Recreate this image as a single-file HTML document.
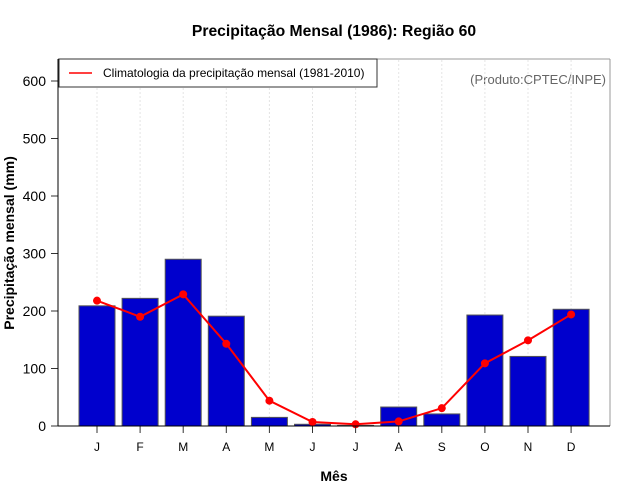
<!DOCTYPE html>
<html><head><meta charset="utf-8"><style>
body{margin:0;background:#fff;}
svg{display:block;font-family:"Liberation Sans",sans-serif;}
</style></head><body>
<svg id="c" width="640" height="500">
<text x="334" y="36" text-anchor="middle" font-size="15.7" font-weight="bold">Precipitação Mensal (1986): Região 60</text>
<text x="334" y="481" text-anchor="middle" font-size="14" font-weight="bold">Mês</text>
<text transform="translate(14,243) rotate(-90)" text-anchor="middle" font-size="14" font-weight="bold">Precipitação mensal (mm)</text>
<text x="606" y="84" text-anchor="end" font-size="13" fill="#666">(Produto:CPTEC/INPE)</text>
<g id="grid"></g><g id="bars"></g><g id="line"></g><g id="axes"></g>
<line x1="58" y1="59" x2="610" y2="59" stroke="#999"/>
<line x1="610" y1="59" x2="610" y2="426" stroke="#999"/>
<line x1="58" y1="59" x2="58" y2="426" stroke="#000"/>
<line x1="58" y1="426" x2="610" y2="426" stroke="#000"/>
<g>
<rect x="59" y="59" width="318" height="28" fill="#fff" stroke="#333"/>
<line x1="69" y1="73" x2="92" y2="73" stroke="red" stroke-width="1.5"/>
<text x="103" y="77" font-size="12">Climatologia da precipitação mensal (1981-2010)</text>
</g>
</svg>
<script>
const months=["J","F","M","A","M","J","J","A","S","O","N","D"];
const precip=[209,222,290,191,15,3,1,33,21,193,121,203];
const clim=[218,190,229,143,44,7,3,8,31,109,149,194];
const yTicks=[0,100,200,300,400,500,600];
const NS="http://www.w3.org/2000/svg";
const x=i=>97+i*43.1;
const y=v=>426-v*0.575;
function mk(tag,attrs,parent,text){const e=document.createElementNS(NS,tag);for(const k in attrs)e.setAttribute(k,attrs[k]);if(text!==undefined)e.textContent=text;document.getElementById(parent).appendChild(e);return e;}
months.forEach((m,i)=>{
  let g=mk('line',{x1:x(i),x2:x(i),y1:60,y2:426,stroke:'#e4e4e4','stroke-dasharray':'2,2'},'grid');
  
  
  let b=mk('rect',{x:x(i)-18,y:y(precip[i]),width:36,height:426-y(precip[i]),fill:'#0000cd',stroke:'#555'},'bars');
  
  
  let t=mk('line',{x1:x(i),x2:x(i),y1:426,y2:433,stroke:'#333'},'axes');
  
  
  let l=mk('text',{x:x(i),y:451,'text-anchor':'middle','font-size':12},'axes',m);
  
  
});
let p=mk('polyline',{points:clim.map((v,i)=>x(i)+','+y(v)).join(' '),fill:'none',stroke:'red','stroke-width':2},'line');


clim.forEach((v,i)=>{
  let c=mk('circle',{cx:x(i),cy:y(v),r:4,fill:'red'},'line');
  
  
});
yTicks.forEach(v=>{
  let t=mk('line',{x1:51,x2:58,y1:y(v),y2:y(v),stroke:'#333'},'axes');
  
  
  let l=mk('text',{x:46,y:y(v)+5,'text-anchor':'end','font-size':14},'axes',v);
  
  
});
</script>
</body></html>
